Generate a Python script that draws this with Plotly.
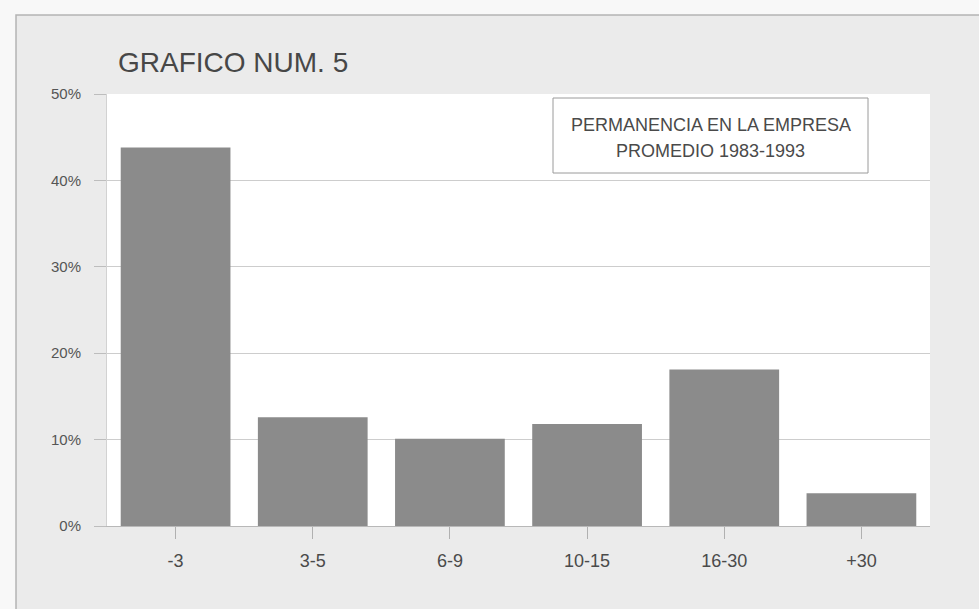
import plotly.graph_objects as go

# Años de permanencia en la empresa y porcentaje promedio 1983-1993
categorias = ["-3", "3-5", "6-9", "10-15", "16-30", "+30"]
porcentajes = [43.8, 12.6, 10.1, 11.8, 18.1, 3.8]
marcas_y = [0, 10, 20, 30, 40, 50]
etiquetas_y = ["0%", "10%", "20%", "30%", "40%", "50%"]
leyenda = ["PERMANENCIA EN LA EMPRESA", "PROMEDIO 1983-1993"]

W, H = 979, 609
ML, MR, MT, MB = 107, 49, 94, 83
pw, ph = W - ML - MR, H - MT - MB


def px_x(p):
    return (p - ML) / pw


def px_y(p):
    return (H - MB - p) / ph


fig = go.Figure(
    go.Bar(
        x=categorias,
        y=porcentajes,
        marker=dict(color="#8b8b8b", line=dict(width=0)),
        hoverinfo="x+y",
    )
)

texto = dict(family="Liberation Sans, Arial, sans-serif", size=18, color="#4a4a4a")

fig.update_layout(
    width=W,
    height=H,
    margin=dict(l=ML, r=MR, t=MT, b=MB),
    paper_bgcolor="#f8f8f8",
    plot_bgcolor="rgba(0,0,0,0)",
    bargap=0.2,
    showlegend=False,
    font=dict(family="Liberation Sans, Arial, sans-serif", color="#4a4a4a"),
    title=dict(
        text="GRAFICO NUM. 5",
        xref="container",
        yref="container",
        x=118 / W,
        y=1 - 62 / H,
        xanchor="left",
        yanchor="middle",
        font=dict(family="Liberation Sans, Arial, sans-serif", size=28, color="#474747"),
    ),
    shapes=[
        # marco gris de la página
        dict(
            type="rect", xref="paper", yref="paper", layer="below",
            x0=px_x(16), x1=px_x(1010), y0=px_y(640), y1=px_y(15),
            fillcolor="#ebebeb", line=dict(color="#b4b4b4", width=1.5),
        ),
        # área de trazado blanca
        dict(
            type="rect", xref="paper", yref="paper", layer="below",
            x0=0, x1=1, y0=0, y1=1,
            fillcolor="#ffffff", line=dict(width=0),
        ),
        # recuadro del rótulo
        dict(
            type="rect", xref="paper", yref="paper", layer="above",
            x0=px_x(553), x1=px_x(868), y0=px_y(173), y1=px_y(98),
            fillcolor="#ffffff", line=dict(color="#9a9a9a", width=1),
        ),
    ],
    annotations=[
        dict(
            text=leyenda[0],
            xref="paper", yref="paper",
            x=px_x(710.5), y=px_y(125),
            xanchor="center", yanchor="middle",
            showarrow=False, font=texto,
        ),
        dict(
            text=leyenda[1],
            xref="paper", yref="paper",
            x=px_x(710.5), y=px_y(151),
            xanchor="center", yanchor="middle",
            showarrow=False, font=texto,
        ),
    ],
)

fig.update_yaxes(
    range=[0, 50],
    tickmode="array",
    tickvals=marcas_y,
    ticktext=etiquetas_y,
    showgrid=True,
    gridcolor="#cdcdcd",
    gridwidth=1,
    zeroline=False,
    showline=True,
    linecolor="#d2d2d2",
    linewidth=1,
    ticks="outside",
    ticklen=12,
    tickcolor="#bdbdbd",
    ticklabelstandoff=10,
    tickfont=dict(family="Liberation Sans, Arial, sans-serif", size=15, color="#555555"),
    fixedrange=True,
)

fig.update_xaxes(
    showgrid=False,
    showline=True,
    linecolor="#b8b8b8",
    linewidth=1,
    ticks="outside",
    ticklen=12,
    tickcolor="#b0b0b0",
    ticklabelstandoff=6,
    tickfont=texto,
    fixedrange=True,
)

fig.write_html("out.html", config={"displayModeBar": False})
